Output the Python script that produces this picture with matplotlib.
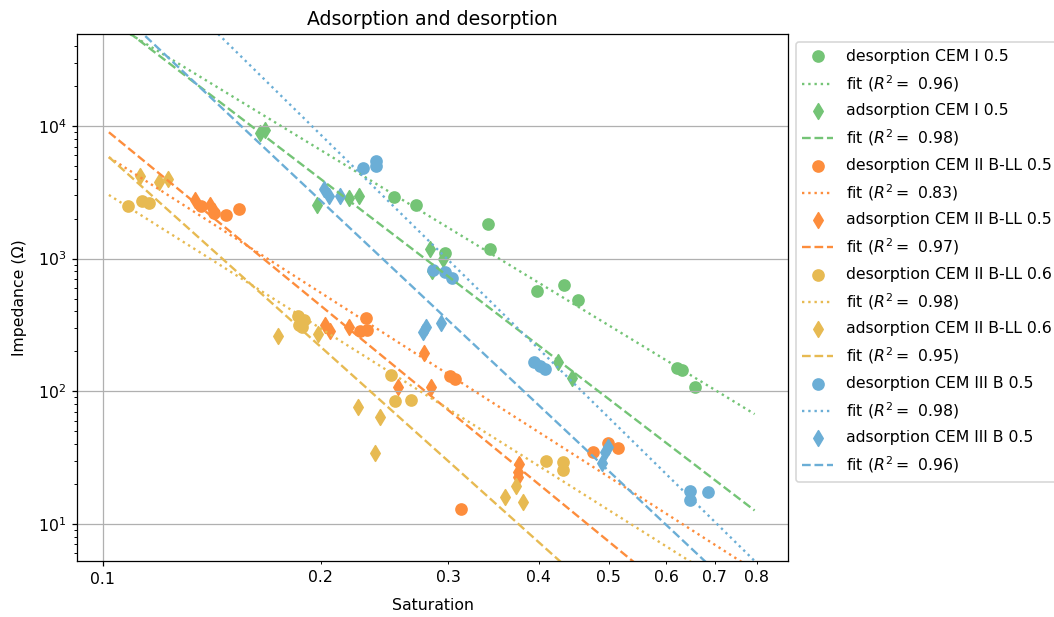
import numpy as np
import matplotlib.pyplot as plt

# Saturation / impedance readings for each mix
cem1_des_sat = [0.2523, 0.2711, 0.3401, 0.3423, 0.2967, 0.3975, 0.4339, 0.4537, 0.6210, 0.6310, 0.6582]
cem1_des_imp = [2922, 2529, 1838, 1184, 1104, 568, 633, 484, 150, 144.5, 107.6]
cem1_ads_sat = [0.1648, 0.1676, 0.1975, 0.2191, 0.2261, 0.2829, 0.2951, 0.2850, 0.4260, 0.4447]
cem1_ads_imp = [8887, 9361, 2551, 2872, 2947, 1184, 986, 803, 165, 124.7]

cem2_05_des_sat = [0.1367, 0.1423, 0.1480, 0.1544, 0.2310, 0.2269, 0.2318, 0.3020, 0.3069, 0.3130, 0.4758, 0.4991, 0.5152]
cem2_05_des_imp = [2486, 2213, 2148, 2384, 357, 283, 291, 129.6, 124.3, 13.0, 34.9, 40.4, 37.5]
cem2_05_ads_sat = [0.1342, 0.1406, 0.1424, 0.2030, 0.2062, 0.2191, 0.2782, 0.2555, 0.2845, 0.3763, 0.3751, 0.3751]
cem2_05_ads_imp = [2788, 2543, 2291, 318, 283, 303, 194, 107.0, 107.6, 28.2, 24.6, 22.7]

cem2_06_des_sat = [0.1084, 0.1133, 0.1157, 0.1861, 0.1867, 0.1897, 0.1885, 0.2501, 0.2531, 0.2665, 0.4094, 0.4322, 0.4322]
cem2_06_des_imp = [2507, 2702, 2633, 369, 316, 345, 305, 133, 83.9, 86.3, 29.9, 29.0, 25.4]
cem2_06_ads_sat = [0.1127, 0.1195, 0.1231, 0.1748, 0.1986, 0.2254, 0.2417, 0.2379, 0.3728, 0.3596, 0.3808]
cem2_06_ads_imp = [4173, 3793, 4016, 261, 270, 76.6, 63.9, 34.0, 19.4, 15.9, 14.7]

cem3_des_sat = [0.2286, 0.2387, 0.2387, 0.2859, 0.2972, 0.3040, 0.3941, 0.4017, 0.4081, 0.6478, 0.6478, 0.6847]
cem3_des_imp = [4837, 5434, 4983, 814, 787, 709, 165, 155, 147, 17.6, 15.2, 17.3]
cem3_ads_sat = [0.2021, 0.2057, 0.2130, 0.2769, 0.2796, 0.2932, 0.4889, 0.4939, 0.4994]
cem3_ads_imp = [3330, 2947, 2947, 280, 305, 325, 28.6, 34.9, 37.9]

mixes = ['CEM I 0.5', 'CEM II B-LL 0.5', 'CEM II B-LL 0.6', 'CEM III B 0.5']
colors = ['#74c476', '#fd8d3c', '#e7ba52', '#6baed6']

# power-law fits: log10(Z) = fit_a + fit_b * log10(S), order des/ads per mix
fit_a = [1.4967, 0.6853, 0.3022, -0.4796, 0.0668, -1.0849, 0.1858, -0.1441]
fit_b = [-3.322, -4.171, -3.492, -4.471, -3.443, -4.893, -5.364, -5.124]
fit_r2 = [0.96, 0.98, 0.83, 0.97, 0.98, 0.95, 0.98, 0.96]

series = [
    (cem1_des_sat, cem1_des_imp, cem1_ads_sat, cem1_ads_imp),
    (cem2_05_des_sat, cem2_05_des_imp, cem2_05_ads_sat, cem2_05_ads_imp),
    (cem2_06_des_sat, cem2_06_des_imp, cem2_06_ads_sat, cem2_06_ads_imp),
    (cem3_des_sat, cem3_des_imp, cem3_ads_sat, cem3_ads_imp),
]

DPI = 113
fig = plt.figure(figsize=(1054 / DPI, 617 / DPI), dpi=DPI)
ax = fig.add_axes([0.0735, 0.090, 0.6741, 0.8541])

s_fit = np.geomspace(0.102, 0.795, 60)

for i, (mix, c) in enumerate(zip(mixes, colors)):
    des_s, des_z, ads_s, ads_z = series[i]
    for k, (s, z, kind, mk, ls) in enumerate([(des_s, des_z, 'desorption', 'o', ':'),
                                              (ads_s, ads_z, 'adsorption', 'd', '--')]):
        j = 2 * i + k
        ax.scatter(s, z, color=c, marker=mk, s=50, label=f'{kind} {mix}')
        ax.plot(s_fit, 10 ** (fit_a[j] + fit_b[j] * np.log10(s_fit)), color=c, ls=ls,
                lw=1.5, label=f'fit ($R^2 = $ {fit_r2[j]:.2f})')

ax.set_xscale('log')
ax.set_yscale('log')
ax.set_xlim(0.0923, 0.884)
ax.set_ylim(5.2, 4.9e4)

minor_ticks = [0.2, 0.3, 0.4, 0.5, 0.6, 0.7, 0.8]
ax.set_xticks(minor_ticks, [str(t) for t in minor_ticks], minor=True)
ax.set_xticks([0.1], ['0.1'])
ax.grid(True)

ax.set_xlabel('Saturation', labelpad=7)
ax.set_ylabel('Impedance (Ω)', labelpad=7)
ax.set_title('Adsorption and desorption')
ax.legend(loc='upper left', bbox_to_anchor=(1, 1), labelspacing=0.6)

fig.savefig('out.png', dpi=DPI)
